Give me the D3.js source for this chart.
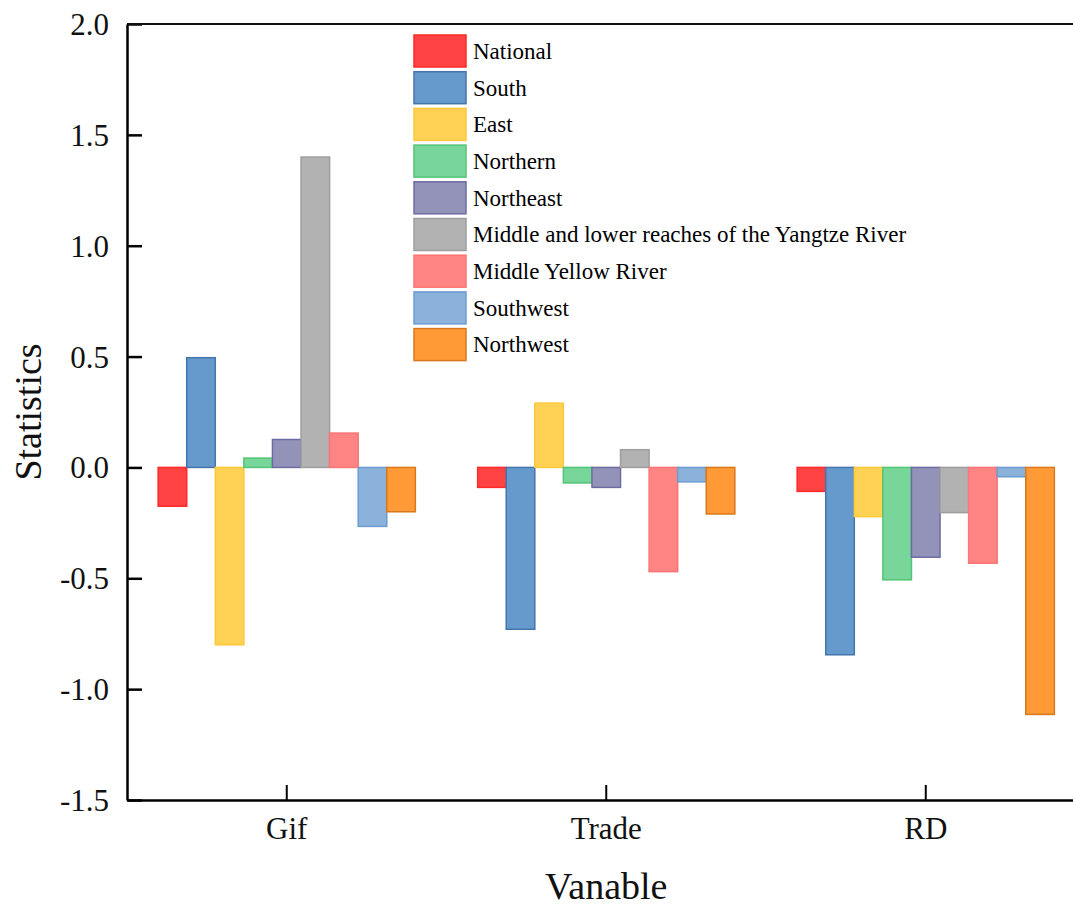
<!DOCTYPE html>
<html><head><meta charset="utf-8">
<script src="https://cdn.jsdelivr.net/npm/d3@7"></script>
<style>body{margin:0;background:#fff}svg{display:block}text{font-family:'Liberation Serif','Times New Roman',serif}</style>
</head><body>
<svg id="c" width="1073" height="908"></svg>
<script>
const categories = ["Gif", "Trade", "RD"];
const seriesNames = ["National","South","East","Northern","Northeast","Middle and lower reaches of the Yangtze River","Middle Yellow River","Southwest","Northwest"];
const National  = [-0.175, -0.09, -0.108];
const South     = [0.495, -0.73, -0.845];
const East      = [-0.80, 0.29, -0.222];
const Northern  = [0.042, -0.07, -0.507];
const Northeast = [0.126, -0.09, -0.405];
const Yangtze   = [1.40, 0.08, -0.204];
const MiddleYellow = [0.155, -0.47, -0.432];
const Southwest = [-0.266, -0.065, -0.042];
const Northwest = [-0.20, -0.21, -1.114];
const seriesValues = [National, South, East, Northern, Northeast, Yangtze, MiddleYellow, Southwest, Northwest];
const yTicks = [-1.5, -1.0, -0.5, 0.0, 0.5, 1.0, 1.5, 2.0];
const fills   = ["#ff4343","#6699cc","#ffd255","#78d69a","#9393b9","#b2b2b2","#ff8484","#8ab2da","#ff9a36"];
const strokes = ["#ff2a2a","#4575ad","#ffc83a","#52c476","#6c6ca2","#9e9e9e","#ff7474","#6d9cd2","#d9781c"];

const svg = d3.select("#c");
const L = 127, R = 1085.5, T = 24, B = 800;
const font = "'Liberation Serif','Times New Roman',serif";

const x = d3.scaleBand().domain(categories).range([L, R]).paddingInner(0).paddingOuter(0);
const groupW = x.bandwidth() * 0.805;
const xs = d3.scaleBand().domain(d3.range(seriesNames.length)).range([0, groupW]).padding(0);
const y = d3.scaleLinear().domain([-1.5, 2.0]).range([B, T]);

// bars
seriesValues.forEach((vals, si) => {
  svg.append("g").selectAll("rect").data(vals).join("rect")
    .attr("x", (d, i) => x(categories[i]) + (x.bandwidth() - groupW) / 2 + xs(si))
    .attr("y", d => y(Math.max(0, d)))
    .attr("width", xs.bandwidth())
    .attr("height", d => Math.abs(y(d) - y(0)))
    .attr("fill", fills[si])
    .attr("stroke", strokes[si])
    .attr("stroke-width", 1.5);
});

// axes
const fmt = d => d3.format(".1f")(d).replace("\u2212", "-");
const yAxis = d3.axisLeft(y).tickValues(yTicks).tickFormat(fmt).tickSizeInner(-15).tickSizeOuter(0).tickPadding(18);
const gy = svg.append("g").attr("transform", `translate(${L},0)`).call(yAxis);
gy.attr("font-family", null);
gy.select(".domain").attr("stroke", "#000").attr("stroke-width", 2.5);
gy.selectAll(".tick line").attr("stroke", "#000").attr("stroke-width", 2.5);
gy.selectAll(".tick text").style("font-family", font).style("font-size", "31px").attr("fill", "#111").attr("dy", "0.34em");

const xAxis = d3.axisBottom(x).tickSizeInner(-15).tickSizeOuter(0).tickPadding(17);
const gx = svg.append("g").attr("transform", `translate(0,${B})`).call(xAxis);
gx.attr("font-family", null);
gx.select(".domain").attr("stroke", "#000").attr("stroke-width", 2.5);
gx.selectAll(".tick line").attr("stroke", "#000").attr("stroke-width", 2);
gx.selectAll(".tick text").style("font-family", font).style("font-size", "31px").attr("fill", "#111");

// top frame line
svg.append("line").attr("x1", L).attr("x2", R).attr("y1", T).attr("y2", T).attr("stroke", "#111").attr("stroke-width", 2);

// axis titles
svg.append("text").attr("transform", `translate(41,${(T + B) / 2}) rotate(-90)`)
  .attr("text-anchor", "middle").style("font-family", font).style("font-size", "38px").attr("fill", "#111").text("Statistics");
svg.append("text").attr("x", (L + R) / 2).attr("y", 899).attr("text-anchor", "middle")
  .style("font-family", font).style("font-size", "38px").attr("fill", "#111").text("Vanable");

// legend
const lg = svg.append("g").attr("transform", "translate(414,35)");
seriesNames.forEach((n, i) => {
  const g = lg.append("g").attr("transform", `translate(0,${i * 36.7})`);
  g.append("rect").attr("width", 52).attr("height", 32).attr("fill", fills[i]).attr("stroke", strokes[i]).attr("stroke-width", 1.5);
  g.append("text").attr("x", 59).attr("y", 16).attr("dy", "0.34em").style("font-family", font).style("font-size", "23px").attr("fill", "#000").text(n);
});
</script>
</body></html>
